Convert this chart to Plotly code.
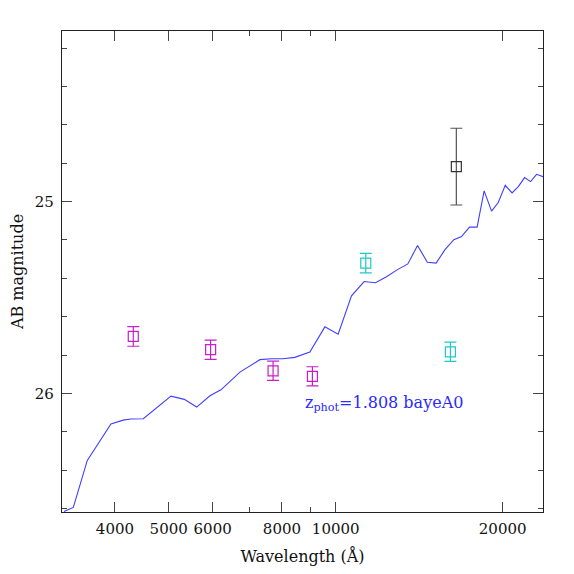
import numpy as np
import plotly.graph_objects as go

# best-fit template SED (observed wavelength in Angstrom, AB mag)
SED_WAVE = [3237, 3365, 3566, 3934, 4140, 4270, 4499, 4755, 5047, 5334,
            5616, 5933, 6211, 6720, 7301, 7662, 8039, 8439, 8983, 9561,
            10102, 10678, 11253, 11798, 12348, 12903, 13490, 14045, 14628, 15171,
            15728, 16328, 16858, 17428, 17985, 18517, 19099, 19635, 20215, 20796,
            21337, 21904, 22455, 23020, 23650]
SED_MAG = [26.615, 26.594, 26.349, 26.159, 26.139, 26.133, 26.132, 26.073, 26.014, 26.031,
           26.071, 26.012, 25.981, 25.889, 25.824, 25.819, 25.819, 25.812, 25.784, 25.653,
           25.691, 25.491, 25.417, 25.423, 25.392, 25.356, 25.325, 25.229, 25.316, 25.321,
           25.252, 25.199, 25.182, 25.133, 25.133, 24.944, 25.050, 25.005, 24.915, 24.955,
           24.922, 24.875, 24.896, 24.858, 24.870]

# photometry, grouped by colour in the original plot
OPT_WAVE = [4316, 5950, 7711, 9078]
OPT_MAG = [25.703, 25.772, 25.882, 25.911]
OPT_ERR = [0.051, 0.050, 0.050, 0.050]

NIR_WAVE = [11330, 16100]
NIR_MAG = [25.321, 25.783]
NIR_ERR = [0.051, 0.050]

OTHER_WAVE = [16500]
OTHER_MAG = [24.818]
OTHER_ERR = [0.200]

X_TICKS = [4000, 5000, 6000, 8000, 10000, 20000]
X_MINOR = [7000, 9000]
Y_TICKS = [25, 26]

ZPHOT = 1.808
TEMPLATE = "bayeA0"

FONT = "DejaVu Serif"

fig = go.Figure()

fig.add_trace(go.Scatter(
    x=SED_WAVE, y=SED_MAG, mode="lines",
    line=dict(color="#3f3fff", width=1.1),
    showlegend=False, hoverinfo="skip",
))

for wave, mag, err, color, bar_color in (
    (OPT_WAVE, OPT_MAG, OPT_ERR, "#c81ec8", "#c81ec8"),
    (NIR_WAVE, NIR_MAG, NIR_ERR, "#1ec8c8", "#1ec8c8"),
    (OTHER_WAVE, OTHER_MAG, OTHER_ERR, "#333333", "#555555"),
):
    fig.add_trace(go.Scatter(
        x=wave, y=mag, mode="markers",
        marker=dict(symbol="square-open", size=10, color=color, line=dict(width=1.2)),
        error_y=dict(type="data", array=err, visible=True,
                     color=bar_color, thickness=1.2, width=6),
        showlegend=False,
    ))

fig.add_annotation(
    x=np.log10(8728), y=26.054, xref="x", yref="y",
    text=f"z<sub>phot</sub>={ZPHOT:.3f} {TEMPLATE}",
    showarrow=False, xanchor="left", yanchor="middle",
    font=dict(family=FONT, size=16, color="#2a2aff"),
)

axis_common = dict(
    showline=True, linecolor="#222", linewidth=1.2, mirror="ticks",
    ticks="inside", tickcolor="#444", tickwidth=1, ticklen=10,
    showgrid=False, zeroline=False,
    tickfont=dict(family=FONT, size=15, color="#111"),
)

fig.update_xaxes(
    type="log", range=[3.5066, 4.3737],
    tickmode="array", tickvals=X_TICKS, ticktext=[str(v) for v in X_TICKS],
    minor=dict(tickmode="array", tickvals=X_MINOR, ticks="inside", ticklen=5,
               tickcolor="#444", showgrid=False),
    ticklabelstandoff=3,
    title=dict(text="Wavelength (Å)", font=dict(family=FONT, size=16, color="#111"),
               standoff=16),
    **axis_common,
)
fig.update_yaxes(
    range=[26.618, 24.111],
    tickmode="array", tickvals=Y_TICKS,
    minor=dict(tick0=0, dtick=0.2, ticks="inside", ticklen=5,
               tickcolor="#444", showgrid=False),
    ticklabelstandoff=4,
    title=dict(text="AB magnitude", font=dict(family=FONT, size=16, color="#111"),
               standoff=12),
    **axis_common,
)

# the page adds an 8px body margin, so the figure is kept 16px smaller
fig.update_layout(
    width=558, height=558,
    margin=dict(l=54, r=23, t=23, b=54, autoexpand=False),
    paper_bgcolor="white", plot_bgcolor="white",
)

fig.write_html("out.html")
